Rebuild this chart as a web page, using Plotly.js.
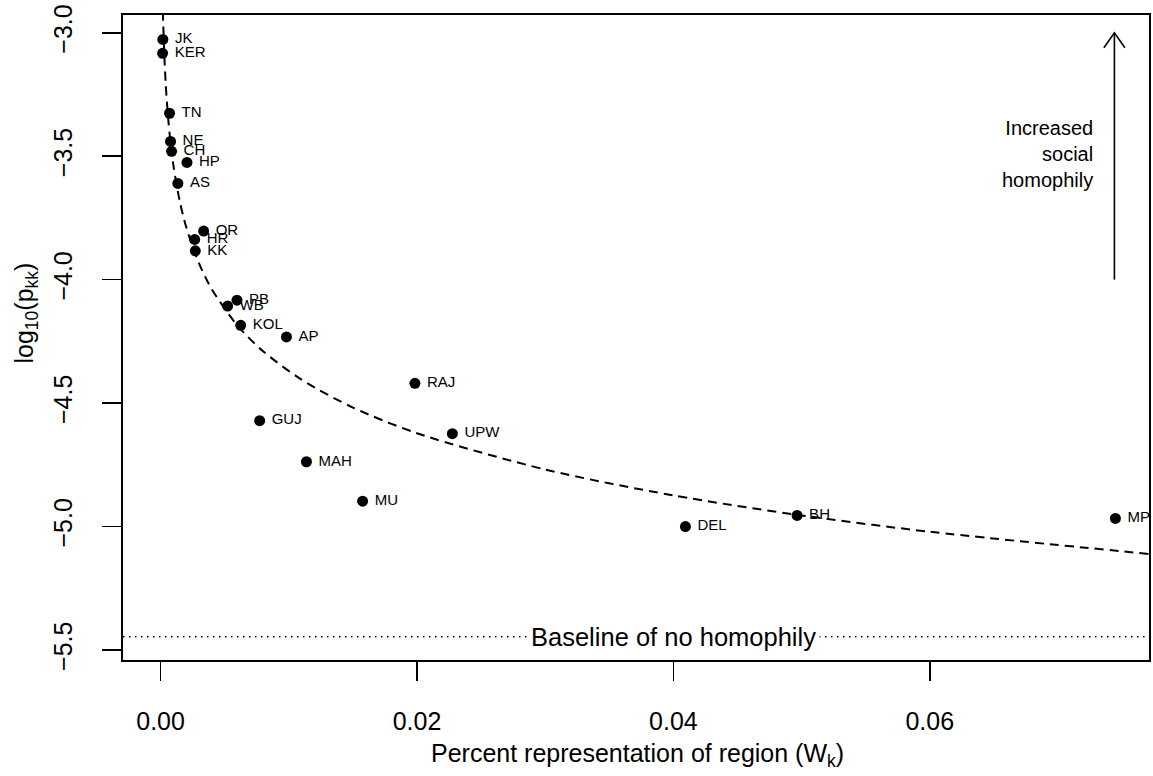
<!DOCTYPE html>
<html>
<head>
<meta charset="utf-8">
<script src="https://cdn.plot.ly/plotly-3.0.1.min.js"></script>
<style>html,body{margin:0;padding:0;background:#fff;}#chart{width:1153px;height:776px;}</style>
</head>
<body>
<div id="chart"></div>
<script>
// Region codes
const regions = ['JK','KER','TN','NE','CH','HP','AS','OR','HR','KK','PB','WB','KOL','AP','RAJ','GUJ','UPW','MAH','MU','DEL','BH','MP'];
// Percent representation of region (W_k)
const weights = [0.00018,0.00016,0.0007,0.00078,0.00086,0.00206,0.00135,0.00336,0.00266,0.00271,0.00596,0.00523,0.00625,0.00982,0.01984,0.00773,0.02276,0.01138,0.01576,0.04094,0.04965,0.07448];
// log10(p_kk)
const logPkk = [-3.027,-3.083,-3.326,-3.44,-3.48,-3.525,-3.61,-3.803,-3.837,-3.883,-4.083,-4.107,-4.185,-4.232,-4.42,-4.571,-4.624,-4.7375,-4.897,-5.0,-4.955,-4.967];
// Fitted dashed curve
const curveX = [0.00018,0.0002,0.0003,0.0004,0.0005,0.0007,0.001,0.0015,0.002,0.003,0.004,0.006,0.008,0.011,0.015,0.02,0.03,0.04,0.05,0.06,0.0775];
const curveY = [-2.914,-2.952,-3.099,-3.204,-3.285,-3.407,-3.536,-3.683,-3.787,-3.934,-4.039,-4.186,-4.290,-4.405,-4.518,-4.622,-4.769,-4.874,-4.955,-5.021,-5.113];
// Baseline of no homophily
const baselineY = -5.446;
// Arrow (increased social homophily)
const arrowX = 0.0744;
const arrowFrom = -4.0;
const arrowTo = -3.0;
// Tick labels
const xTicks = [0, 0.02, 0.04, 0.06];
const yTicks = [-5.5, -5.0, -4.5, -4.0, -3.5, -3.0];

const FONT = 'Liberation Sans, Arial, Helvetica, sans-serif';

const traces = [
  {
    x: weights, y: logPkk, text: regions,
    type: 'scatter', mode: 'markers+text',
    marker: {color: '#000', size: 11},
    textposition: 'middle right',
    texttemplate: '\u00a0%{text}',
    textfont: {family: FONT, size: 15, color: '#000'},
    cliponaxis: false,
    hoverinfo: 'x+y+text'
  },
  {
    x: curveX, y: curveY, type: 'scatter', mode: 'lines',
    line: {color: '#000', width: 2, dash: '9px,6px', shape: 'spline', smoothing: 0.8},
    hoverinfo: 'skip'
  }
];

const xr = [-0.00293, 0.0771];
const yr = [-5.5405, -2.928];
const pxPerX = 1025.5 / (xr[1] - xr[0]);
const pxPerY = 645 / (yr[1] - yr[0]);
const headW = 10.5 / pxPerX;
const headL = 15 / pxPerY;

const layout = {
  width: 1153, height: 776,
  margin: {l: 123, r: 4, t: 15, b: 116},
  paper_bgcolor: '#fff', plot_bgcolor: '#fff',
  showlegend: false,
  font: {family: FONT, color: '#000'},
  xaxis: {
    range: xr, tickvals: xTicks, ticktext: xTicks.map(v => v.toFixed(2)),
    ticks: 'outside', ticklen: 19, tickwidth: 1.5, tickcolor: '#000',
    showline: true, mirror: true, linecolor: '#000', linewidth: 1.6,
    showgrid: false, zeroline: false,
    tickfont: {family: FONT, size: 25, color: '#000'},
    ticklabelstandoff: 19
  },
  yaxis: {
    range: yr, tickvals: yTicks, ticktext: yTicks.map(v => (v < 0 ? '\u2212' : '') + Math.abs(v).toFixed(1)),
    ticks: 'outside', ticklen: 19, tickwidth: 1.5, tickcolor: '#000',
    showline: true, mirror: true, linecolor: '#000', linewidth: 1.6,
    showgrid: false, zeroline: false, tickangle: -90,
    tickfont: {family: FONT, size: 25, color: '#000'},
    ticklabelstandoff: 20
  },
  shapes: [
    {type: 'line', xref: 'paper', x0: 0, x1: 1, yref: 'y', y0: baselineY, y1: baselineY,
     line: {color: '#000', width: 1.5, dash: '1.5px,4.5px'}},
    {type: 'line', xref: 'x', yref: 'y', x0: arrowX, x1: arrowX, y0: arrowFrom, y1: arrowTo,
     line: {color: '#000', width: 1.6}},
    {type: 'path', xref: 'x', yref: 'y',
     path: 'M ' + (arrowX - headW) + ',' + (arrowTo - headL) + ' L ' + arrowX + ',' + arrowTo + ' L ' + (arrowX + headW) + ',' + (arrowTo - headL),
     line: {color: '#000', width: 1.6}}
  ],
  annotations: [
    {x: 0.04, y: baselineY, xref: 'x', yref: 'y', text: 'Baseline of no homophily', showarrow: false,
     bgcolor: '#fff', borderpad: 3, font: {family: FONT, size: 25.5, color: '#000'}, xanchor: 'center', yanchor: 'middle'},
    {x: 0.0729, y: -3.49, xref: 'x', yref: 'y', text: 'Increased<br>social<br>homophily', showarrow: false,
     align: 'right', xanchor: 'right', yanchor: 'middle', font: {family: FONT, size: 20, color: '#000'}},
    {x: 0.5017, y: -0.1475, xref: 'paper', yref: 'paper', text: 'Percent representation of region (W<sub>k</sub>)', showarrow: false,
     xanchor: 'center', yanchor: 'middle', font: {family: FONT, size: 25, color: '#000'}},
    {x: -0.095, y: 0.538, xref: 'paper', yref: 'paper', text: 'log<sub>10</sub>(p<sub>kk</sub>)', showarrow: false,
     textangle: -90, xanchor: 'center', yanchor: 'middle', font: {family: FONT, size: 25, color: '#000'}}
  ]
};

Plotly.newPlot('chart', traces, layout, {displayModeBar: false, staticPlot: true});
</script>
</body>
</html>
